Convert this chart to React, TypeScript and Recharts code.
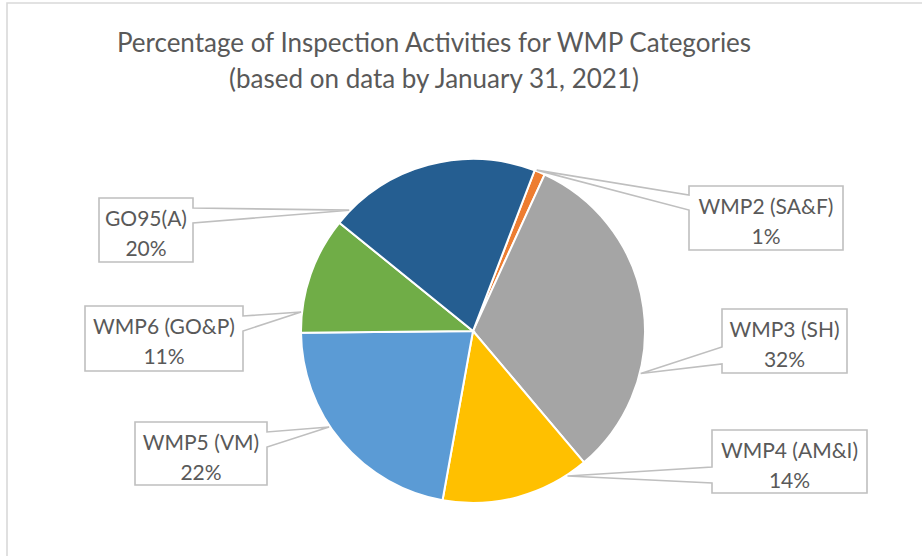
import { PieChart, Pie, Cell } from "recharts";

const categories = ["WMP2 (SA&F)", "WMP3 (SH)", "WMP4 (AM&I)", "WMP5 (VM)", "WMP6 (GO&P)", "GO95(A)"];
const shares = [1, 32, 14, 22, 11, 20];
const colors = ["#ED7D31", "#A5A5A5", "#FFC000", "#5B9BD5", "#70AD47", "#255E91"];
const titleLines = ["Percentage of Inspection Activities for WMP Categories", "(based on data by January 31, 2021)"];

const data = categories.map((name, i) => ({ name, value: shares[i] }));

// callout boxes, placed by hand like the Excel original
// edge: which side of the box the wedge leaves from; b1/b2: wedge base along that edge; ang: anchor angle clockwise from 12 o'clock
const callouts: Record<string, { x: number; y: number; w: number; h: number; edge: "l" | "r"; b1: number; b2: number; ang: number }> = {
  "WMP2 (SA&F)": { x: 689, y: 186, w: 154, h: 64, edge: "l", b1: 9, b2: 24, ang: 21.6 },
  "WMP3 (SH)": { x: 722, y: 309, w: 125, h: 64, edge: "l", b1: 38, b2: 55, ang: 104.2 },
  "WMP4 (AM&I)": { x: 712, y: 430, w: 155, h: 63, edge: "l", b1: 37, b2: 53, ang: 146.9 },
  "WMP5 (VM)": { x: 135, y: 422, w: 132, h: 63, edge: "r", b1: 10, b2: 25, ang: 236.3 },
  "WMP6 (GO&P)": { x: 85, y: 306, w: 158, h: 65, edge: "r", b1: 10, b2: 25, ang: 276.3 },
  "GO95(A)": { x: 99, y: 198, w: 94, h: 64, edge: "r", b1: 10, b2: 25, ang: 314.3 },
};

const FONT = "Lato, 'Open Sans', sans-serif";
const TEXT = "#595959";
const LINE = "#BFBFBF";

function Callout(props: any) {
  const { cx, cy, outerRadius, name, percent } = props;
  const c = callouts[name];
  if (!c) return null;
  const rad = (c.ang * Math.PI) / 180;
  const px = cx + (outerRadius + 1) * Math.sin(rad);
  const py = cy - (outerRadius + 1) * Math.cos(rad);
  const { x, y, w, h } = c;
  let d: string;
  if (c.edge === "l") {
    d = `M${x},${y} L${x + w},${y} L${x + w},${y + h} L${x},${y + h} L${x},${y + c.b2} L${px},${py} L${x},${y + c.b1} Z`;
  } else {
    d = `M${x},${y} L${x + w},${y} L${x + w},${y + c.b1} L${px},${py} L${x + w},${y + c.b2} L${x + w},${y + h} L${x},${y + h} Z`;
  }
  const mid = x + w / 2;
  return (
    <g>
      <path d={d} fill="#fff" stroke={LINE} strokeWidth={1.6} strokeLinejoin="miter" />
      <text x={mid} y={y + 28} textAnchor="middle" fontFamily={FONT} fontSize={21} fill={TEXT}>
        {name}
      </text>
      <text x={mid} y={y + 58} textAnchor="middle" fontFamily={FONT} fontSize={21} fill={TEXT}>
        {`${Math.round(percent * 100)}%`}
      </text>
    </g>
  );
}

export default function App() {
  return (
    <div style={{ position: "absolute", left: 0, top: 0, width: 922, height: 556, background: "#fff", overflow: "hidden" }}>
      <svg width={922} height={556} style={{ position: "absolute", left: 0, top: 0 }}>
        <path d="M7,560 L7,3 L930,3" fill="none" stroke="#D9D9D9" strokeWidth={1.6} />
        {titleLines.map((t, i) => (
          <text key={i} x={434} y={52 + i * 36} textAnchor="middle" fontFamily={FONT} fontSize={26} fill={TEXT}>
            {t}
          </text>
        ))}
      </svg>
      <div style={{ position: "absolute", left: 0, top: 0 }}>
        <PieChart width={922} height={556}>
          <Pie
            data={data}
            dataKey="value"
            nameKey="name"
            cx={468}
            cy={326}
            outerRadius={172}
            startAngle={69}
            endAngle={-291}
            stroke="#fff"
            strokeWidth={2}
            label={Callout}
            labelLine={false}
            isAnimationActive={false}
          >
            {data.map((d, i) => (
              <Cell key={d.name} fill={colors[i]} />
            ))}
          </Pie>
        </PieChart>
      </div>
    </div>
  );
}
